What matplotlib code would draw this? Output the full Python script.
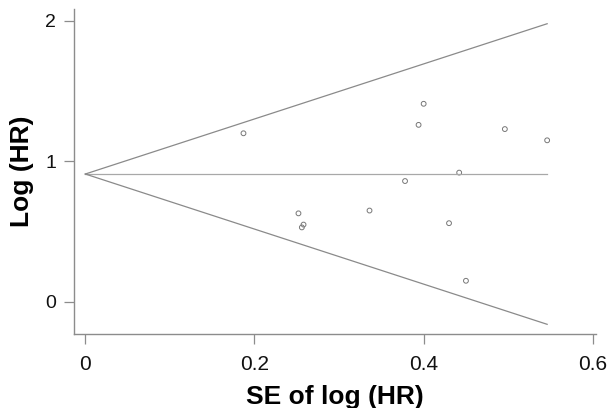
import matplotlib
matplotlib.use('Agg')
import matplotlib.pyplot as plt

plt.rcParams['font.family'] = ['Liberation Sans', 'DejaVu Sans']

# study estimates: standard error and log hazard ratio
se_log_hr = [0.187, 0.252, 0.256, 0.258, 0.336, 0.378, 0.394, 0.400,
             0.430, 0.442, 0.450, 0.496, 0.546]
log_hr = [1.20, 0.63, 0.53, 0.55, 0.65, 0.86, 1.26, 1.41,
          0.56, 0.92, 0.15, 1.23, 1.15]

# pooled estimate and pseudo 95% confidence limits
pooled_x = [0, 0.546]
pooled_y = [0.91, 0.91]
upper_y = [0.91, 1.98]
lower_y = [0.91, -0.16]

fig = plt.figure(figsize=(6.09, 4.08), dpi=100)
ax = fig.add_axes([0.122, 0.181, 0.857, 0.797])

line_col = '#8a8a8a'
ax.plot(pooled_x, pooled_y, color='#a8a8a8', lw=0.9)
ax.plot(pooled_x, upper_y, color=line_col, lw=0.9)
ax.plot(pooled_x, lower_y, color=line_col, lw=0.9)
ax.scatter(se_log_hr, log_hr, s=12, facecolors='none', edgecolors='#777777', linewidths=0.7)

ax.set_xlim(-0.013, 0.604)
ax.set_ylim(-0.23, 2.085)
ax.set_xticks([0, 0.2, 0.4, 0.6])
ax.set_xticklabels(['0', '0.2', '0.4', '0.6'])
ax.set_yticks([0, 1, 2])

for side in ['top', 'right']:
    ax.spines[side].set_visible(False)
for side in ['left', 'bottom']:
    ax.spines[side].set_color('#8c8c8c')
    ax.spines[side].set_linewidth(1.0)
ax.tick_params(direction='out', length=7, width=0.9, color='#8c8c8c', labelsize=14, labelcolor='#111111')
ax.tick_params(axis='x', pad=8, labelsize=15)
ax.tick_params(axis='y', pad=6)

ax.set_xlabel('SE of log (HR)', fontsize=19, fontweight='bold', labelpad=8)
ax.set_ylabel('Log (HR)', fontsize=19, fontweight='bold', labelpad=8)

fig.savefig('out.png', dpi=100)
